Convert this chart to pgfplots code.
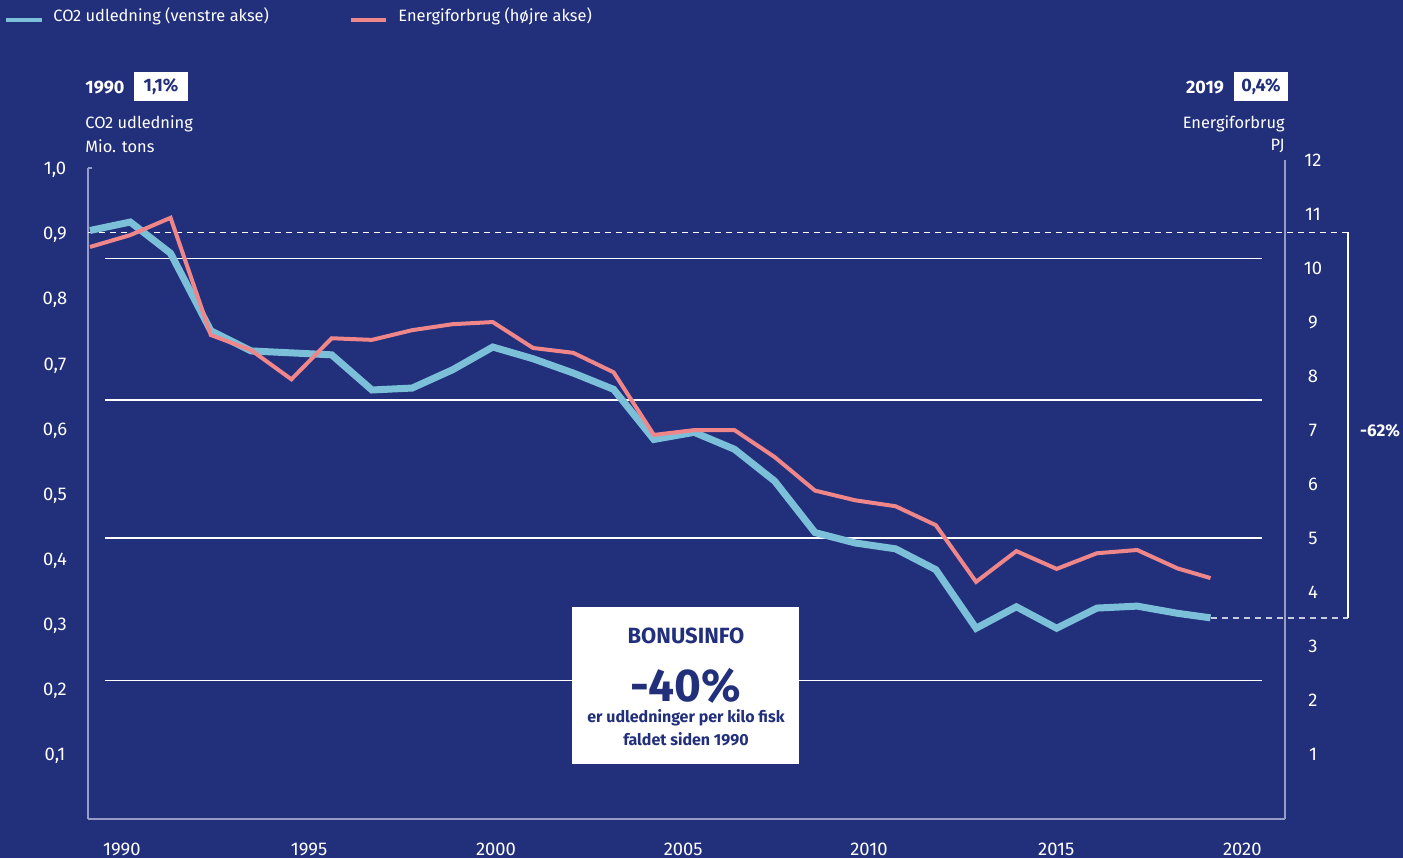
\documentclass[border=0pt]{standalone}
\usepackage{fontspec}
\setmainfont{Fira Sans}
\usepackage{pgfplots}
\pgfplotsset{compat=1.18}

\definecolor{bg}{RGB}{34,47,123}
\definecolor{co2c}{RGB}{123,192,216}
\definecolor{enc}{RGB}{239,134,137}
\definecolor{axisc}{RGB}{150,156,200}

% CO2 udledning, mio. tons (venstre akse)
\pgfplotstableread{
year  val
1990  0.904
1991  0.917
1992  0.869
1993  0.750
1994  0.719
1995  0.716
1996  0.713
1997  0.659
1998  0.662
1999  0.690
2000  0.725
2001  0.707
2002  0.685
2003  0.660
2004  0.583
2005  0.594
2006  0.568
2007  0.519
2008  0.440
2009  0.424
2010  0.415
2011  0.383
2012  0.293
2013  0.326
2014  0.293
2015  0.324
2016  0.327
2017  0.316
2017.82 0.309
}\co

% Energiforbrug, PJ (hoejre akse)
\pgfplotstableread{
year  val
1990  10.39
1991  10.61
1992  10.93
1993  8.76
1994  8.48
1995  7.94
1996  8.70
1997  8.67
1998  8.85
1999  8.96
2000  9.00
2001  8.52
2002  8.43
2003  8.07
2004  6.91
2005  7.00
2006  7.00
2007  6.50
2008  5.88
2009  5.70
2010  5.59
2011  5.24
2012  4.19
2013  4.76
2014  4.43
2015  4.72
2016  4.78
2017  4.44
2017.82 4.26
}\energy

\pgfplotsset{
  base/.style={
    at={(44pt,19.5pt)}, anchor=south west,
    scale only axis, width=598.5pt,
    xmin=1989.95, xmax=2019.67,
    clip=false,
    tick style={draw=none},
    ticklabel style={font=\fontsize{9.2}{10}\selectfont, text=white},
    /pgf/number format/assume math mode=true,
    axis line style={draw=axisc, line width=0.75pt, -},
  },
}

\begin{document}
\begin{tikzpicture}
\fill[bg] (0,0) rectangle (701.5pt,429pt);
\path[use as bounding box] (0,0) rectangle (701.5pt,429pt);

% left axis: CO2
\begin{axis}[base,
    height=325.5pt,
    ymin=0, ymax=1,
    axis x line*=bottom, axis y line*=left,
    xtick={1990.79,1995.44,2000.08,2004.73,2009.34,2013.99,2018.61},
    xticklabels={1990,1995,2000,2005,2010,2015,2020},
    ytick={0.1,0.2,0.3,0.4,0.5,0.6,0.7,0.8,0.9,1.0},
    yticklabel style={anchor=center, xshift=-16.5pt, yshift=-1pt,
      /pgf/number format/.cd, fixed, fixed zerofill, precision=1, use comma},
    xticklabel style={anchor=center, yshift=-15pt},
  ]
  % decorative grid lines
  \draw[white, line width=0.75pt] (axis cs:1990.37,0.861) -- (axis cs:2019.10,0.861);
  \draw[white, line width=0.75pt] (axis cs:1990.37,0.6435) -- (axis cs:2019.10,0.6435);
  \draw[white, line width=0.75pt] (axis cs:1990.37,0.432) -- (axis cs:2019.10,0.432);
  \draw[white, line width=0.75pt] (axis cs:1990.37,0.213) -- (axis cs:2019.10,0.213);
  \draw[axisc, line width=0.75pt] (axis cs:1989.95,1) -- (axis cs:1990.05,1);
  % reference lines and bracket
  \draw[white, line width=0.8pt, dash pattern=on 3pt off 2.5pt] (axis cs:1989.95,0.901) -- (axis cs:2021.24,0.901);
  \draw[white!75!bg, line width=0.8pt, dash pattern=on 3pt off 2.5pt] (axis cs:2017.82,0.309) -- (axis cs:2021.24,0.309);
  \draw[white, line width=1.2pt] (axis cs:2021.24,0.901) -- (axis cs:2021.24,0.309);
  \node[text=white, font=\bfseries\fontsize{8.5}{10}\selectfont] at (axis cs:2022.03,0.597) {-62\%};
  \addplot[co2c, line width=3.5pt] table[x=year, y=val] {\co};
\end{axis}

% right axis: energy
\begin{axis}[base,
    height=329.5pt,
    ymin=-0.2, ymax=12,
    axis x line=none, axis y line*=right,
    ytick={1,2,3,4,5,6,7,8,9,10,11,12},
    yticklabel style={anchor=center, xshift=14pt},
  ]
  \addplot[enc, line width=2pt] table[x=year, y=val] {\energy};
\end{axis}

% annotations in pixel coordinates
\begin{scope}[x=0.5pt, y=-0.5pt, shift={(0pt,429pt)}]
  % legend
  \draw[co2c, line width=2pt] (6,20) -- (42,20);
  \node[anchor=west, inner sep=0, text=white, font=\fontsize{8.2}{9}\selectfont] at (53,16) {CO2 udledning (venstre akse)};
  \draw[enc, line width=2pt] (351,20) -- (386,20);
  \node[anchor=west, inner sep=0, text=white, font=\fontsize{8.2}{9}\selectfont] at (398,16) {Energiforbrug (højre akse)};
  % left header
  \node[text=white, font=\bfseries\fontsize{9}{10}\selectfont] at (105,88) {1990};
  \fill[white] (134,72) rectangle (188,101);
  \node[text=bg, font=\bfseries\fontsize{9}{10}\selectfont] at (161,87) {1,1\%};
  \node[anchor=west, inner sep=0, text=white, font=\fontsize{8.2}{9}\selectfont] at (85,124) {CO2 udledning};
  \node[anchor=west, inner sep=0, text=white, font=\fontsize{8.2}{9}\selectfont] at (85,146) {Mio. tons};
  % right header
  \node[text=white, font=\bfseries\fontsize{9}{10}\selectfont] at (1205,88) {2019};
  \fill[white] (1234,72) rectangle (1288,101);
  \node[text=bg, font=\bfseries\fontsize{9}{10}\selectfont] at (1261,87) {0,4\%};
  \node[anchor=east, inner sep=0, text=white, font=\fontsize{8.2}{9}\selectfont] at (1285,124) {Energiforbrug};
  \node[anchor=east, inner sep=0, text=white, font=\fontsize{8.2}{9}\selectfont] at (1285,146) {PJ};
  % bonus box
  \fill[white] (572,607) rectangle (799,764);
  \node[text=bg, font=\bfseries\fontsize{11}{13}\selectfont] at (686,636) {BONUSINFO};
  \node[text=bg, font=\bfseries\fontsize{23}{25}\selectfont] at (686,686) {-40\%};
  \node[text=bg, font=\bfseries\fontsize{8}{9}\selectfont] at (686,718) {er udledninger per kilo fisk};
  \node[text=bg, font=\bfseries\fontsize{8}{9}\selectfont] at (686,739) {faldet siden 1990};
\end{scope}
\end{tikzpicture}
\end{document}
